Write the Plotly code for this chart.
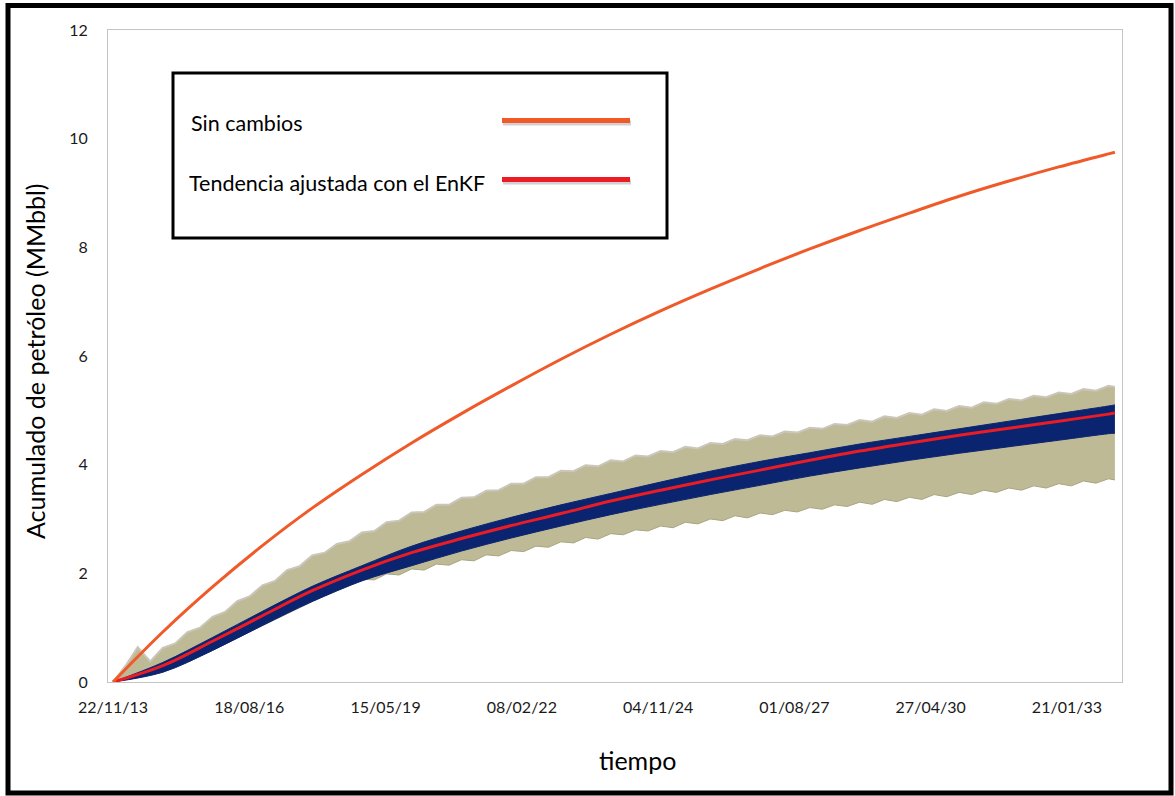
import plotly.graph_objects as go
import pandas as pd

# ---------------- data ----------------
# yearly knots: 22/11/2013 ... 22/11/2033, plus the last simulated date
year_dates = [f"{2013 + k}-11-22" for k in range(21)] + ["2034-01-08"]

sin_cambios = [0.00, 0.92, 1.75, 2.51, 3.20, 3.82, 4.40, 4.94, 5.45, 5.94, 6.40,
               6.83, 7.23, 7.61, 7.97, 8.31, 8.63, 8.94, 9.22, 9.48, 9.72, 9.75]
tendencia_enkf = [0.00, 0.30, 0.75, 1.22, 1.68, 2.06, 2.38, 2.64, 2.88, 3.10, 3.33,
                  3.53, 3.72, 3.90, 4.08, 4.25, 4.40, 4.54, 4.67, 4.80, 4.93, 4.95]
enkf_band_top = [0.00, 0.36, 0.82, 1.30, 1.76, 2.14, 2.50, 2.78, 3.03, 3.26, 3.47,
                 3.68, 3.88, 4.06, 4.22, 4.38, 4.52, 4.66, 4.80, 4.94, 5.08, 5.10]
enkf_band_bottom = [0.00, 0.18, 0.58, 1.04, 1.48, 1.86, 2.14, 2.41, 2.65, 2.87, 3.08,
                    3.27, 3.45, 3.62, 3.79, 3.94, 4.08, 4.21, 4.33, 4.45, 4.57, 4.58]

# quarterly knots of the ensemble envelope (saw-tooth edges)
quarter_dates = [d.strftime("%Y-%m-%d") for d in
                 pd.date_range("2013-11-22", periods=81, freq=pd.DateOffset(months=3))] + ["2034-01-08"]

ensemble_top = [0.00, 0.30, 0.64, 0.38,
                0.63, 0.71, 0.92, 1.00,
                1.20, 1.29, 1.49, 1.58,
                1.78, 1.86, 2.06, 2.13,
                2.33, 2.38, 2.54, 2.59,
                2.75, 2.78, 2.94, 2.97,
                3.12, 3.13, 3.26, 3.26,
                3.39, 3.40, 3.52, 3.53,
                3.65, 3.65, 3.77, 3.77,
                3.89, 3.88, 3.99, 3.97,
                4.08, 4.06, 4.17, 4.15,
                4.25, 4.23, 4.33, 4.30,
                4.40, 4.38, 4.47, 4.45,
                4.54, 4.52, 4.61, 4.59,
                4.68, 4.66, 4.75, 4.73,
                4.82, 4.79, 4.89, 4.86,
                4.95, 4.92, 5.02, 4.99,
                5.08, 5.05, 5.15, 5.12,
                5.21, 5.18, 5.27, 5.24,
                5.33, 5.30, 5.39, 5.36,
                5.45, 5.43]
ensemble_bottom = [0.00, 0.045, 0.09, 0.135,
                   0.18, 0.28, 0.38, 0.48,
                   0.58, 0.70, 0.81, 0.93,
                   1.04, 1.15, 1.26, 1.37,
                   1.48, 1.58, 1.67, 1.77,
                   1.89, 1.88, 1.99, 1.97,
                   2.08, 2.06, 2.17, 2.15,
                   2.25, 2.23, 2.34, 2.32,
                   2.42, 2.40, 2.50, 2.48,
                   2.58, 2.56, 2.66, 2.63,
                   2.73, 2.71, 2.80, 2.78,
                   2.87, 2.84, 2.94, 2.91,
                   3.00, 2.97, 3.06, 3.02,
                   3.11, 3.08, 3.16, 3.13,
                   3.21, 3.18, 3.26, 3.23,
                   3.31, 3.27, 3.36, 3.32,
                   3.40, 3.36, 3.45, 3.41,
                   3.49, 3.45, 3.53, 3.49,
                   3.57, 3.53, 3.61, 3.57,
                   3.65, 3.61, 3.70, 3.66,
                   3.74, 3.72]

legend_labels = ["Sin cambios", "Tendencia ajustada con el EnKF"]
x_title = "tiempo"
y_title = "Acumulado de petróleo (MMbbl)"

# ---------------- styling ----------------
ORANGE = "#f05a28"
RED = "#ec1c24"
NAVY = "#0b2470"
KHAKI = "rgb(190,186,150)"
FONT = "Lato"

W, H = 1175, 796
L, T, R, B = 108, 30, 1122, 682  # plot area in pixels


def px(x):
    return (x - L) / (R - L)


def py(y):
    return (B - y) / (B - T)


fig = go.Figure()

# ensemble envelope
fig.add_trace(go.Scatter(x=quarter_dates, y=ensemble_bottom, mode="lines",
                         line=dict(color="rgb(168,166,128)", width=1), hoverinfo="skip"))
fig.add_trace(go.Scatter(x=quarter_dates, y=ensemble_top, mode="lines", fill="tonexty",
                         fillcolor=KHAKI, line=dict(color="rgb(202,198,188)", width=2),
                         hoverinfo="skip"))
# EnKF band
fig.add_trace(go.Scatter(x=year_dates, y=enkf_band_bottom, mode="lines",
                         line=dict(color=NAVY, width=1, shape="spline"), hoverinfo="skip"))
fig.add_trace(go.Scatter(x=year_dates, y=enkf_band_top, mode="lines", fill="tonexty",
                         fillcolor=NAVY, line=dict(color=NAVY, width=1, shape="spline"),
                         hoverinfo="skip"))
# lines
fig.add_trace(go.Scatter(x=year_dates, y=tendencia_enkf, mode="lines", name=legend_labels[1],
                         line=dict(color=RED, width=3, shape="spline")))
fig.add_trace(go.Scatter(x=year_dates, y=sin_cambios, mode="lines", name=legend_labels[0],
                         line=dict(color=ORANGE, width=3, shape="spline")))

shapes = [
    # outer black frame
    dict(type="rect", xref="paper", yref="paper", x0=px(8), x1=px(1171), y0=py(5.5), y1=py(793),
         line=dict(color="black", width=5), fillcolor="rgba(0,0,0,0)", layer="above"),
    # legend box
    dict(type="rect", xref="paper", yref="paper", x0=px(173), x1=px(667), y0=py(73), y1=py(238),
         line=dict(color="black", width=3), fillcolor="white", layer="above"),
    # legend line shadows
    dict(type="line", xref="paper", yref="paper", x0=px(503), x1=px(631), y0=py(123), y1=py(123),
         line=dict(color="rgba(0,0,0,0.18)", width=5), layer="above"),
    dict(type="line", xref="paper", yref="paper", x0=px(503), x1=px(631), y0=py(182), y1=py(182),
         line=dict(color="rgba(0,0,0,0.18)", width=5), layer="above"),
    # legend lines
    dict(type="line", xref="paper", yref="paper", x0=px(502), x1=px(630), y0=py(120.5), y1=py(120.5),
         line=dict(color=ORANGE, width=5), layer="above"),
    dict(type="line", xref="paper", yref="paper", x0=px(502), x1=px(630), y0=py(179.5), y1=py(179.5),
         line=dict(color=RED, width=5), layer="above"),
]

annotations = [
    dict(text=legend_labels[0], x=px(189), y=py(123), xref="paper", yref="paper",
         xanchor="left", yanchor="middle", showarrow=False, font=dict(family=FONT, size=21.5, color="black")),
    dict(text=legend_labels[1], x=px(187), y=py(183), xref="paper", yref="paper",
         xanchor="left", yanchor="middle", showarrow=False, font=dict(family=FONT, size=21.5, color="black")),
    dict(text=x_title, x=px(637), y=py(760), xref="paper", yref="paper",
         xanchor="center", yanchor="middle", showarrow=False, font=dict(family=FONT, size=25, color="black")),
    dict(text=y_title, x=px(35), y=py(362), xref="paper", yref="paper", textangle=-90,
         xanchor="center", yanchor="middle", showarrow=False, font=dict(family=FONT, size=25, color="black")),
]

fig.update_layout(
    width=W, height=H,
    margin=dict(l=L, r=W - R, t=T, b=H - B),
    paper_bgcolor="white", plot_bgcolor="white",
    showlegend=False,
    shapes=shapes, annotations=annotations,
    font=dict(family=FONT, color="#1a1a1a"),
    xaxis=dict(type="date", range=["2013-10-16", "2034-03-01"],
               tick0="2013-11-22", dtick=1000 * 86400000, tickformat="%d/%m/%y",
               showgrid=False, zeroline=False, showline=True, linecolor="#c4c4c4", linewidth=1,
               mirror=True, ticks="", ticklabelstandoff=11, tickfont=dict(family=FONT, size=16)),
    yaxis=dict(range=[0, 12], tick0=0, dtick=2, showgrid=False, zeroline=False,
               showline=True, linecolor="#c4c4c4", linewidth=1, mirror=True, ticks="",
               ticklabelstandoff=16, tickfont=dict(family=FONT, size=16)),
)

fig.write_html("out.html")
